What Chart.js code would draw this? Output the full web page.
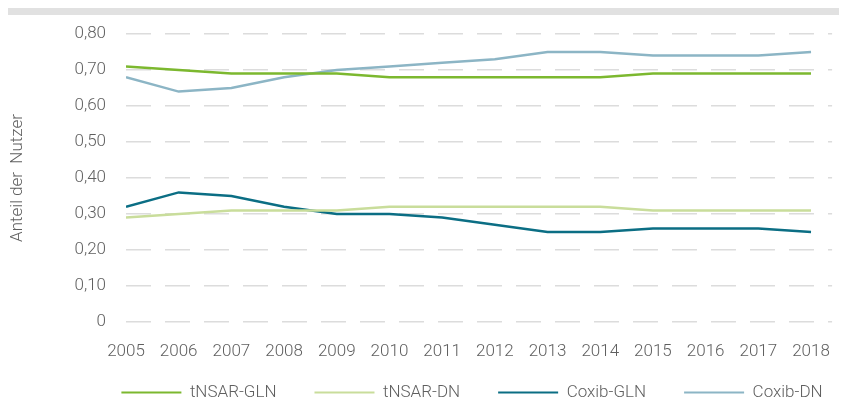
<!DOCTYPE html>
<html lang="de">
<head>
<meta charset="utf-8">
<script src="https://cdn.jsdelivr.net/npm/chart.js@4/dist/chart.umd.min.js"></script>
<style>
  html, body { margin: 0; padding: 0; background: #fff; }
  #wrap { position: relative; width: 842px; height: 403px; }
  #topbar { position: absolute; left: 8px; top: 8px; width: 831px; height: 7px; background: #e1e1e1; }
  canvas { position: absolute; left: 0; top: 0; }
</style>
</head>
<body>
<div id="wrap">
  <div id="topbar"></div>
  <canvas id="chart" width="842" height="403"></canvas>
</div>
<script>
// ---------- Daten ----------
const years      = [2005, 2006, 2007, 2008, 2009, 2010, 2011, 2012, 2013, 2014, 2015, 2016, 2017, 2018];
const tnsarGln   = [0.71, 0.70, 0.69, 0.69, 0.69, 0.68, 0.68, 0.68, 0.68, 0.68, 0.69, 0.69, 0.69, 0.69];
const tnsarDn    = [0.29, 0.30, 0.31, 0.31, 0.31, 0.32, 0.32, 0.32, 0.32, 0.32, 0.31, 0.31, 0.31, 0.31];
const coxibGln   = [0.32, 0.36, 0.35, 0.32, 0.30, 0.30, 0.29, 0.27, 0.25, 0.25, 0.26, 0.26, 0.26, 0.25];
const coxibDn    = [0.68, 0.64, 0.65, 0.68, 0.70, 0.71, 0.72, 0.73, 0.75, 0.75, 0.74, 0.74, 0.74, 0.75];
const yTicks     = [0, 0.1, 0.2, 0.3, 0.4, 0.5, 0.6, 0.7, 0.8];
const yTitle     = "Anteil der  Nutzer";

const TEXT = "#5f5f5f";
const FONT = { family: "Roboto", size: 17, weight: 300 };

function pts(vals) { return years.map((yr, i) => ({ x: yr, y: vals[i] })); }
function ds(label, vals, color) {
  return { label, data: pts(vals), borderColor: color, backgroundColor: color,
           borderWidth: 2.5, pointRadius: 0, tension: 0, fill: false };
}

// Legende nach rechts schieben, x-Achse nach unten nicht abschneiden
const layoutTweak = {
  id: "layoutTweak",
  afterLayout(chart) {
    const lg = chart.legend;
    if (lg) { lg.left += 53; lg.right += 53; }
    const x = chart.scales.x;
    if (x) x.bottom = x.top + 40;
  }
};

new Chart(document.getElementById("chart"), {
  type: "line",
  data: {
    datasets: [
      ds("tNSAR-GLN", tnsarGln, "#7cb82f"),
      ds("tNSAR-DN",  tnsarDn,  "#c9dd9b"),
      ds("Coxib-GLN", coxibGln, "#0b6e84"),
      ds("Coxib-DN",  coxibDn,  "#8cb5c5"),
    ]
  },
  plugins: [layoutTweak],
  options: {
    responsive: false,
    animation: false,
    layout: { padding: { top: 34, right: 4, left: 0, bottom: -8 } },
    plugins: {
      tooltip: { enabled: false },
      legend: {
        position: "bottom",
        labels: {
          color: TEXT, font: FONT, boxWidth: 60, boxHeight: 2, padding: 38,
          generateLabels: (chart) =>
            Chart.defaults.plugins.legend.labels.generateLabels(chart)
              .map(it => ({ ...it, fillStyle: it.strokeStyle, lineWidth: 0 }))
        }
      }
    },
    scales: {
      x: {
        type: "linear",
        min: years[0],
        max: years[years.length - 1] + 0.4,
        afterBuildTicks: s => { s.ticks = years.map(v => ({ value: v })); },
        afterFit: s => { s.height = 24; },
        ticks: { color: TEXT, font: FONT, padding: 12, maxRotation: 0, autoSkip: false,
                 callback: v => String(v) },
        grid: { display: false },
        border: { display: false }
      },
      y: {
        min: 0, max: 0.8,
        afterBuildTicks: s => { s.ticks = yTicks.map(v => ({ value: v })); },
        afterFit: s => { s.width = 126; },
        ticks: { color: TEXT, font: FONT, padding: 20,
                 callback: v => v === 0 ? "0" : v.toFixed(2).replace(".", ",") },
        grid: { color: "#dcdcdc", lineWidth: 1.5, drawTicks: false },
        border: { display: false, dash: [25, 14] },
        title: { display: true, text: yTitle, color: TEXT, font: FONT, padding: { top: 8, bottom: 0 } }
      }
    }
  }
});
</script>
</body>
</html>
